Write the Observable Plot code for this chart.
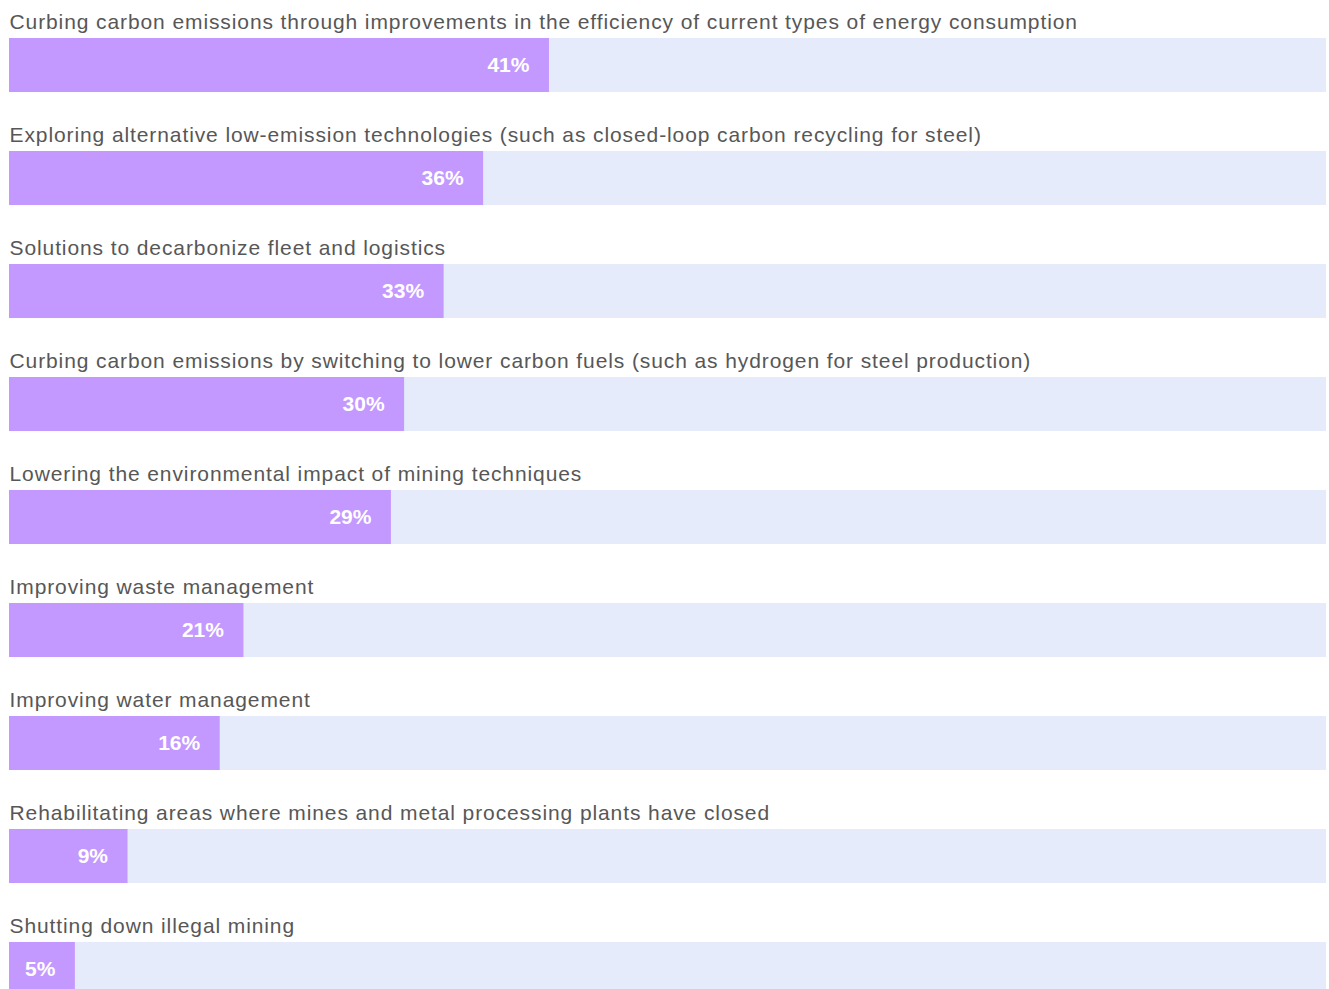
<!DOCTYPE html>
<html>
<head>
<meta charset="utf-8">
<script src="https://cdn.jsdelivr.net/npm/d3@7"></script>
<script src="https://cdn.jsdelivr.net/npm/@observablehq/plot@0.6"></script>
<style>
  html, body { margin: 0; padding: 0; background: #fff; }
  #chart { width: 1329px; height: 989px; overflow: hidden; }
</style>
</head>
<body>
<div id="chart"></div>
<script>
const categories = [
  "Curbing carbon emissions through improvements in the efficiency of current types of energy consumption",
  "Exploring alternative low-emission technologies (such as closed-loop carbon recycling for steel)",
  "Solutions to decarbonize fleet and logistics",
  "Curbing carbon emissions by switching to lower carbon fuels (such as hydrogen for steel production)",
  "Lowering the environmental impact of mining techniques",
  "Improving waste management",
  "Improving water management",
  "Rehabilitating areas where mines and metal processing plants have closed",
  "Shutting down illegal mining"
];
// bar lengths as drawn in the picture (percent of full track)
const barLengths = [41, 36, 33, 30, 29, 17.8, 16, 9, 5];
// value labels as printed
const valueLabels = ["41%", "36%", "33%", "30%", "29%", "21%", "16%", "9%", "5%"];

const data = categories.map((c, i) => ({category: c, length: barLengths[i], label: valueLabels[i]}));

const chart = Plot.plot({
  width: 1329,
  height: 989,
  marginLeft: 9,
  marginRight: 3,
  marginTop: 0,
  marginBottom: 0,
  style: {fontFamily: "'Liberation Sans', Arial, sans-serif", background: "#fff"},
  x: {domain: [0, 100], range: [9, 1326], axis: null},
  y: {domain: categories, range: [38, 996], paddingInner: 0.522, paddingOuter: 0, round: false, axis: null},
  marks: [
    Plot.barX(data, {y: "category", x1: 0, x2: 100, fill: "#e6ebfb", insetTop: 0, insetBottom: 0}),
    Plot.barX(data, {y: "category", x1: 0, x2: "length", fill: "#c399ff", insetTop: 0, insetBottom: 0}),
    Plot.text(data, {
      y: "category", x: 0, text: "category", textAnchor: "start",
      dy: -43, fontSize: 21, fill: "#575757"
    }),
    Plot.text(data, {
      y: "category", x: "length", text: "label", textAnchor: "end",
      dx: -20, fontSize: 21, fontWeight: "bold", fill: "#ffffff"
    })
  ]
});
d3.select(chart).selectAll('g[aria-label="text"]').filter((d, i) => i === 0)
  .attr("letter-spacing", "0.9px");
document.getElementById("chart").appendChild(chart);
</script>
</body>
</html>
